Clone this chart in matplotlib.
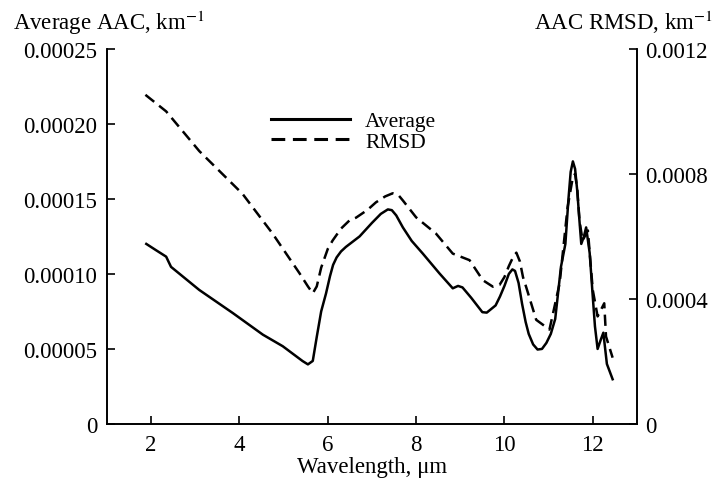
import matplotlib
matplotlib.use("Agg")
import matplotlib.pyplot as plt

plt.rcParams['font.family'] = ['Liberation Serif', 'DejaVu Serif']
plt.rcParams['mathtext.fontset'] = 'stix'

# Average AAC (left axis)
avg_x = [1.89, 2.1, 2.34, 2.38, 2.45, 3.09, 3.85, 4.53, 4.98, 5.43, 5.55, 5.66,
         5.75, 5.85, 5.96, 6.05, 6.12, 6.2, 6.3, 6.41, 6.72, 7.0, 7.2, 7.36,
         7.45, 7.55, 7.7, 7.9, 8.15, 8.53, 8.83, 8.95, 9.05, 9.25, 9.5, 9.6,
         9.8, 9.9, 10.0, 10.1, 10.18, 10.24, 10.32, 10.4, 10.48, 10.55, 10.65,
         10.75, 10.85, 10.95, 11.05, 11.15, 11.28, 11.38, 11.45, 11.5, 11.55,
         11.6, 11.65, 11.7, 11.74, 11.8, 11.85, 11.93, 12.0, 12.05, 12.11,
         12.18, 12.24, 12.32, 12.45]
avg_y = [0.0001200, 0.0001160, 0.0001115, 0.0001090, 0.0001047, 0.0000893,
         0.0000739, 0.0000595, 0.0000518, 0.0000419, 0.0000397, 0.0000420,
         0.0000580, 0.0000750, 0.0000870, 0.0000985, 0.0001060, 0.0001110,
         0.0001150, 0.0001180, 0.0001250, 0.0001340, 0.0001400, 0.0001430,
         0.0001425, 0.0001390, 0.0001310, 0.0001220, 0.0001136, 0.0001003,
         0.0000904, 0.0000920, 0.0000910, 0.0000840, 0.0000745, 0.0000742,
         0.0000790, 0.0000850, 0.0000920, 0.0001000, 0.0001030, 0.0001020,
         0.0000940, 0.0000800, 0.0000680, 0.0000600, 0.0000530, 0.0000496,
         0.0000500, 0.0000540, 0.0000600, 0.0000700, 0.0001047, 0.0001200,
         0.0001500, 0.0001680, 0.0001750, 0.0001700, 0.0001550, 0.0001350,
         0.0001200, 0.0001250, 0.0001310, 0.0001140, 0.0000850, 0.0000650,
         0.0000500, 0.0000560, 0.0000608, 0.0000400, 0.0000298]

# AAC RMSD (right axis)
rmsd_x = [1.87, 2.34, 3.09, 4.07, 4.75, 5.36, 5.55, 5.66, 5.75, 5.85, 6.0,
          6.11, 6.3, 6.49, 6.64, 6.9, 7.09, 7.3, 7.47, 7.6, 7.7, 8.0, 8.45,
          8.83, 9.21, 9.51, 9.74, 9.89, 10.0, 10.1, 10.2, 10.27, 10.35, 10.42,
          10.49, 10.72, 11.02, 11.25, 11.43, 11.5, 11.55, 11.6, 11.65, 11.7,
          11.77, 11.89, 12.0, 12.11, 12.26, 12.3, 12.45]
rmsd_y = [0.001053, 0.001000, 0.000873, 0.000736, 0.000609, 0.000482, 0.000440,
          0.000418, 0.000440, 0.000500, 0.000560, 0.000587, 0.000625, 0.000651,
          0.000660, 0.000685, 0.000709, 0.000728, 0.000738, 0.000732, 0.000715,
          0.000661, 0.000609, 0.000545, 0.000524, 0.000460, 0.000439, 0.000445,
          0.000470, 0.000505, 0.000535, 0.000548, 0.000520, 0.000470, 0.000439,
          0.000333, 0.000302, 0.000450, 0.000693, 0.000750, 0.000790, 0.000800,
          0.000750, 0.000650, 0.000587, 0.000619, 0.000429, 0.000344, 0.000386,
          0.000280, 0.000212]

x_ticks = [2, 4, 6, 8, 10, 12]
left_ticks = [0, 0.00005, 0.00010, 0.00015, 0.00020, 0.00025]
left_labels = ["0", "0.00005", "0.00010", "0.00015", "0.00020", "0.00025"]
right_ticks = [0, 0.0004, 0.0008, 0.0012]
right_labels = ["0", "0.0004", "0.0008", "0.0012"]

fig = plt.figure(figsize=(7.2, 4.89), dpi=100)
ax = fig.add_axes([0.1486, 0.131, 0.736, 0.767])
ax2 = ax.twinx()

l1, = ax.plot(avg_x, avg_y, color='black', lw=1.8, label='Average')
l2, = ax2.plot(rmsd_x, rmsd_y, color='black', lw=1.8, dashes=(4.5, 2.5), label='RMSD')

ax.set_xlim(1, 13)
ax.set_ylim(0, 0.00025)
ax2.set_ylim(0, 0.0012)

fs = 16.5
ax.set_xticks(x_ticks)
ax.set_xticklabels([str(t) for t in x_ticks], fontsize=fs)
ax.set_yticks(left_ticks)
ax.set_yticklabels(left_labels, fontsize=fs)
ax2.set_yticks(right_ticks)
ax2.set_yticklabels(right_labels, fontsize=fs)

for a in (ax, ax2):
    a.spines['top'].set_visible(False)
    for s in a.spines.values():
        s.set_linewidth(1.2)
ax.tick_params(direction='in', length=6, width=1.2, pad=7)
ax2.tick_params(direction='in', length=6, width=1.2, pad=6)

ax.set_xlabel("Wavelength, μm", fontsize=fs, labelpad=1)

fig.text(0.018, 0.938, "Average AAC, km$^{-1}$", fontsize=fs, ha='left', va='baseline')
fig.text(0.99, 0.938, "AAC RMSD, km$^{-1}$", fontsize=fs, ha='right', va='baseline')

leg = ax.legend(handles=[l1, l2], loc='upper left', bbox_to_anchor=(0.272, 0.885),
                frameon=False, fontsize=15.5, handlelength=3.7, handletextpad=0.7,
                labelspacing=0.0)
for line in leg.get_lines():
    line.set_linewidth(2.2)

fig.savefig("out.png", dpi=100)
